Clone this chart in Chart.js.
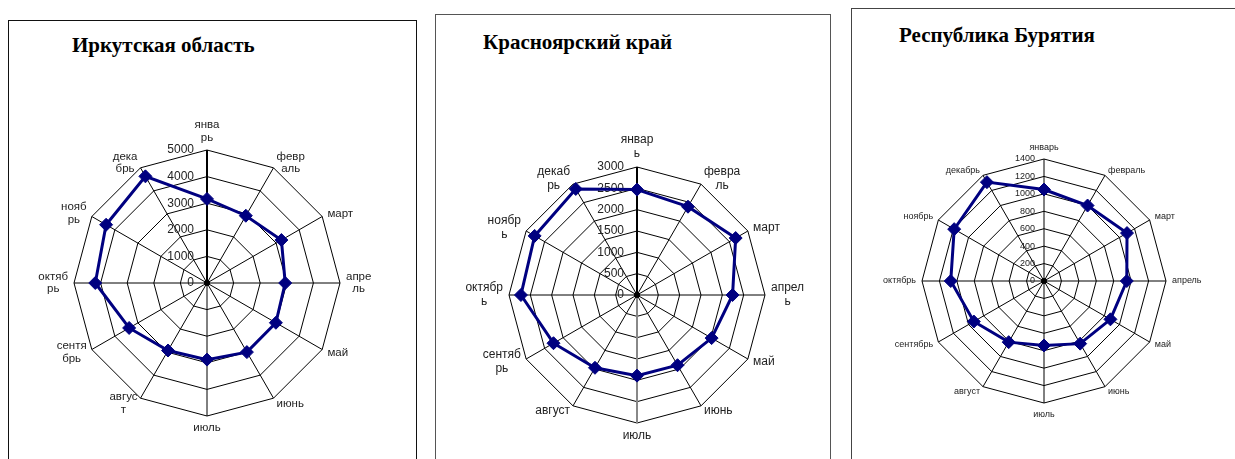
<!DOCTYPE html>
<html>
<head>
<meta charset="utf-8">
<script src="https://cdn.jsdelivr.net/npm/chart.js@4/dist/chart.umd.min.js"></script>
<style>
  html, body { margin: 0; padding: 0; background: #fff; }
  body { position: relative; width: 1235px; height: 459px; overflow: hidden; }
  .box { position: absolute; background: #fff; }
  .title { position: absolute; font: bold 21px "Liberation Serif", "Times New Roman", serif; line-height: 21px; color: #000; white-space: nowrap; }
  canvas { position: absolute; }
</style>
</head>
<body>
<div class="box" style="left:8px;top:20px;width:407px;height:460px;border:1px solid #111;"></div>
<div class="box" style="left:435px;top:14px;width:394px;height:460px;border:1px solid #555;"></div>
<div class="box" style="left:851px;top:8px;width:400px;height:460px;border:1px solid #444;"></div>

<div class="title" style="left:72px;top:35px;">Иркутская область</div>
<div class="title" style="left:483px;top:32px;">Красноярский край</div>
<div class="title" style="left:899px;top:25px;">Республика Бурятия</div>

<canvas id="irk" width="406" height="438" style="left:9px;top:21px;"></canvas>
<canvas id="kras" width="394" height="444" style="left:436px;top:15px;"></canvas>
<canvas id="bur" width="383" height="450" style="left:852px;top:9px;"></canvas>

<script>
// Monthly values per region
const irkutskValues = [3160, 2920, 3230, 2940, 2990, 3000, 2880, 2930, 3380, 4200, 4380, 4630];
const krasnoyarskValues = [2470, 2390, 2670, 2240, 2020, 1900, 1890, 1970, 2260, 2720, 2770, 2870];
const buryatiaValues = [1050, 1000, 1100, 950, 880, 830, 740, 810, 930, 1070, 1190, 1310];

// Month captions as they wrap in each chart
const irkutskMonths = [["янва", "рь"], ["февр", "аль"], "март", ["апре", "ль"], "май", "июнь", "июль",
  ["авгус", "т"], ["сентя", "брь"], ["октяб", "рь"], ["нояб", "рь"], ["дека", "брь"]];
const krasnoyarskMonths = [["январ", "ь"], ["февра", "ль"], "март", ["апрел", "ь"], "май", "июнь", "июль",
  "август", ["сентяб", "рь"], ["октябр", "ь"], ["ноябр", "ь"], ["декаб", "рь"]];
const buryatiaMonths = ["январь", "февраль", "март", "апрель", "май", "июнь", "июль",
  "август", "сентябрь", "октябрь", "ноябрь", "декабрь"];

// Radial axis ranges
const irkutskAxis = { max: 5000, step: 1000 };
const krasnoyarskAxis = { max: 3000, step: 500 };
const buryatiaAxis = { max: 1400, step: 200 };

const NAVY = '#000080';
const TEXT = '#222';
const FAMILY = '"Liberation Sans", Arial, sans-serif';

// Draws tick values left of the vertical axis, the centre dot, and month captions
const radarText = {
  id: 'radarText',
  beforeDatasetsDraw(chart, args, o) {
    const s = chart.scales.r, ctx = chart.ctx;
    ctx.save();
    ctx.fillStyle = TEXT;
    ctx.font = o.tickFont + ' ' + FAMILY;
    ctx.textAlign = 'right';
    ctx.textBaseline = 'middle';
    s.ticks.forEach(t => {
      const d = s.getDistanceFromCenterForValue(t.value);
      ctx.fillText(String(t.value), s.xCenter - o.tickGap, s.yCenter - d);
    });
    ctx.fillStyle = '#000';
    ctx.beginPath();
    ctx.arc(s.xCenter, s.yCenter, 3, 0, Math.PI * 2);
    ctx.fill();
    ctx.restore();
  },
  afterDraw(chart, args, o) {
    const s = chart.scales.r, ctx = chart.ctx;
    ctx.save();
    ctx.fillStyle = TEXT;
    ctx.font = o.labelFont + ' ' + FAMILY;
    ctx.textAlign = 'center';
    ctx.textBaseline = 'middle';
    chart.data.labels.forEach((lab, i) => {
      const lines = Array.isArray(lab) ? lab : [lab];
      const w = Math.max(...lines.map(l => ctx.measureText(l).width));
      const h = lines.length * o.lineHeight;
      const v = s.getPointPositionForValue(i, s.max);
      const a = s.getIndexAngle(i);
      const sx = Math.sin(a), cy = Math.cos(a);
      const ax = v.x + o.labelGap * sx, ay = v.y - o.labelGap * cy;
      let left, top;
      if (sx > 0.05) left = ax; else if (sx < -0.05) left = ax - w; else left = ax - w / 2;
      if (Math.abs(sx) <= 0.05) top = cy > 0 ? ay - h : ay; else top = ay - h / 2;
      lines.forEach((l, k) => ctx.fillText(l, left + w / 2, top + (k + 0.5) * o.lineHeight));
    });
    ctx.restore();
  }
};

function radar(id, labels, values, axis, geo, text, spokes) {
  const cv = document.getElementById(id);
  const W = cv.width, H = cv.height;
  const padding = {
    left: geo.cx - geo.r,
    top: geo.cy - geo.r,
    right: W - (geo.cx + geo.r),
    bottom: H - (geo.cy + geo.r)
  };
  return new Chart(cv, {
    type: 'radar',
    data: {
      labels: labels,
      datasets: [{
        data: values,
        borderColor: NAVY,
        borderWidth: 3,
        backgroundColor: 'rgba(0,0,0,0)',
        fill: false,
        tension: 0,
        pointStyle: 'rectRot',
        pointRadius: 6.5,
        pointBackgroundColor: NAVY,
        pointBorderColor: NAVY,
        pointBorderWidth: 1
      }]
    },
    options: {
      responsive: false,
      animation: false,
      devicePixelRatio: 1,
      layout: { padding: padding },
      plugins: {
        legend: { display: false },
        tooltip: { enabled: false },
        radarText: text
      },
      scales: {
        r: {
          min: 0,
          max: axis.max,
          startAngle: 0,
          ticks: { display: false, stepSize: axis.step },
          grid: { color: '#000', lineWidth: 1 },
          angleLines: {
            display: true,
            color: ctx => (spokes[ctx.index] || {}).color || '#000',
            lineWidth: ctx => (spokes[ctx.index] || {}).width || 1
          },
          pointLabels: { display: false }
        }
      }
    },
    plugins: [radarText]
  });
}

radar('irk', irkutskMonths, irkutskValues, irkutskAxis,
  { cx: 198, cy: 262, r: 133 },
  { tickFont: '12px', tickGap: 13, labelFont: '11.5px', lineHeight: 12.5, labelGap: 6 },
  { 0: { width: 2, color: '#000' } });

radar('kras', krasnoyarskMonths, krasnoyarskValues, krasnoyarskAxis,
  { cx: 201, cy: 280, r: 128 },
  { tickFont: '12px', tickGap: 13, labelFont: '12px', lineHeight: 14, labelGap: 6 },
  { 0: { width: 2, color: '#000' }, 6: { width: 2, color: '#888' } });

radar('bur', buryatiaMonths, buryatiaValues, buryatiaAxis,
  { cx: 192, cy: 272, r: 122 },
  { tickFont: '9px', tickGap: 9, labelFont: '9px', lineHeight: 11, labelGap: 6 },
  {});
</script>
</body>
</html>
